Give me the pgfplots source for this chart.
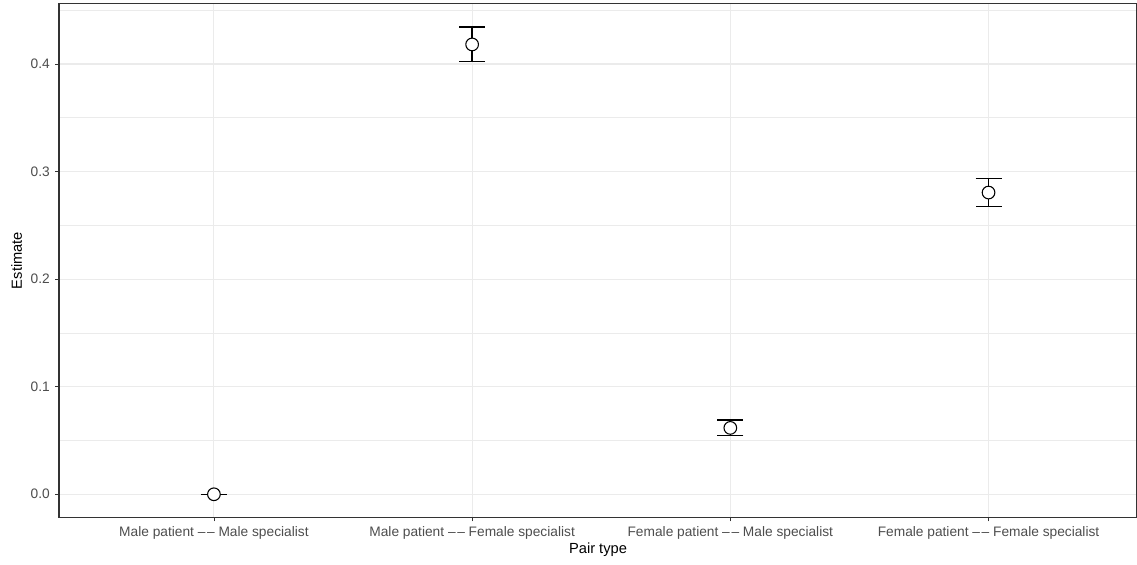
\documentclass[border=0pt]{standalone}
\usepackage{pgfplots}
\pgfplotsset{compat=1.18}
\usepackage{fontspec}
\setmainfont{Liberation Sans}
\definecolor{gridc}{HTML}{EBEBEB}
\definecolor{borderc}{HTML}{333333}
\definecolor{tickc}{HTML}{4D4D4D}
\newcommand{\dd}{\textendash\hspace{0.12em}\textendash}
\begin{document}
\begin{tikzpicture}
\begin{axis}[
  name=ax,
  scale only axis,
  width=808.5pt, height=385.6pt,
  xmin=0.4, xmax=4.575,
  ymin=-0.0217, ymax=0.4563,
  xtick={1,2,3,4},
  xticklabels={Male patient \dd{} Male specialist,
               Male patient \dd{} Female specialist,
               Female patient \dd{} Male specialist,
               Female patient \dd{} Female specialist},
  ytick={0,0.1,0.2,0.3,0.4},
  minor ytick={0.05,0.15,0.25,0.35,0.45},
  /pgf/number format/fixed,
  /pgf/number format/fixed zerofill,
  /pgf/number format/precision=1,
  /pgf/number format/assume math mode=true,
  ticklabel style={font=\fontsize{10.3}{11}\selectfont, text=tickc},
  xtick pos=bottom, ytick pos=left,
  tick align=outside,
  major tick length=2.75pt,
  minor tick length=0pt,
  tick style={borderc, line width=0.6pt},
  xticklabel style={yshift=-0.3pt},
  yticklabel style={xshift=-0.6pt},
  grid=both,
  major grid style={gridc, line width=0.8pt},
  minor grid style={gridc, line width=0.45pt},
  axis line style={borderc, line width=0.8pt},
  xlabel={Pair type},
  ylabel={Estimate},
  label style={font=\fontsize{11}{12}\selectfont},
  xlabel style={at={(axis description cs:0.5,-0.0628)}, anchor=center},
  ylabel style={at={(axis description cs:-0.0392,0.5)}, anchor=center},
  clip=false,
]
\addplot[only marks, mark=none, line width=1.1pt, black,
  error bars/.cd, y dir=both, y explicit,
  error bar style={line width=1.1pt, black},
  error mark options={line width=1.1pt, black, mark size=9.75pt, rotate=90}]
  coordinates {
  (1,0.0) +- (0,0.0)
  (2,0.4182) +- (0,0.0161)
  (3,0.0617) +- (0,0.0072)
  (4,0.2805) +- (0,0.0130)
};
\addplot[only marks, mark=*, mark size=4.75pt, mark options={draw=black, fill=white, line width=0.8pt}]
  coordinates {(1,0.0) (2,0.4182) (3,0.0617) (4,0.2805)};
\end{axis}
\pgfresetboundingbox
\path ([shift={(-44.25pt,-35.5pt)}]ax.south west) rectangle ([shift={(0pt,2.6pt)}]ax.north east);
\end{tikzpicture}
\end{document}
